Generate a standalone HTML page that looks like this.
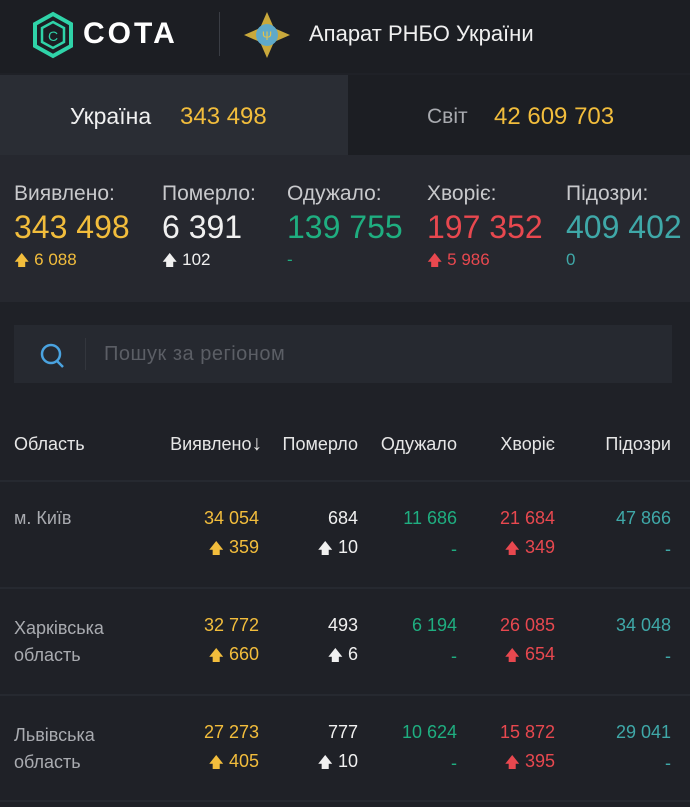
<!DOCTYPE html>
<html><head><meta charset="utf-8"><style>
*{margin:0;padding:0;box-sizing:border-box}
body{width:690px;height:807px;background:#1f2127;font-family:"Liberation Sans","Noto Sans CJK SC",sans-serif;position:relative;overflow:hidden;color:#fff}
.a{position:absolute;white-space:nowrap}
.y{color:#f2bd3c}.w{color:#f0f0f0}.g{color:#1fae80}.r{color:#e8484f}.t{color:#3fa8a8}.gr{color:#a9abb0}
.r2{text-align:right}
.v{font-size:18px}
.ar{font-size:15px}
.sep{position:absolute;left:0;width:690px;height:2px;background:#262930}
</style></head><body>
<div class="a" style="left:0;top:0;width:690px;height:73px;background:#1c1e23"></div>
<svg class="a" style="left:30px;top:11px" width="46" height="48" viewBox="0 0 46 48"><polygon points="23,3 41,13 41,35 23,45 5,35 5,13" fill="none" stroke="#2fd3a8" stroke-width="4"/><polygon points="23,11 34,17 34,31 23,37 12,31 12,17" fill="none" stroke="#2fd3a8" stroke-width="2.5"/><text x="23" y="30" font-size="14" fill="#2fd3a8" text-anchor="middle" font-family="Liberation Sans">C</text></svg>
<div class="a" style="left:83px;top:17px;font-size:30px;letter-spacing:3px;color:#fff;font-weight:bold">COTA</div>
<div class="a" style="left:219px;top:12px;width:1px;height:44px;background:#3a3d44"></div>
<svg class="a" style="left:244px;top:12px" width="46" height="46" viewBox="0 0 46 46"><polygon points="23,0 30,16 46,23 30,30 23,46 16,30 0,23 16,16" fill="#c9a93c"/><circle cx="23" cy="23" r="11" fill="#5fa9c9"/><text x="23" y="28" font-size="12" fill="#e5c24a" text-anchor="middle">Ψ</text></svg>
<div class="a" style="left:309px;top:21px;font-size:22px;color:#f0f0f0">Апарат РНБО України</div>

<div class="a" style="left:0;top:75px;width:348px;height:80px;background:#2a2d34"></div>
<div class="a" style="left:348px;top:75px;width:342px;height:80px;background:#1c1e23"></div>
<div class="a" style="left:70px;top:103px;font-size:23px;color:#f0f0f0">Україна</div>
<div class="a y" style="left:180px;top:103px;font-size:24px">343 498</div>
<div class="a gr" style="left:427px;top:105px;font-size:21px">Світ</div>
<div class="a y" style="left:494px;top:103px;font-size:24px">42 609 703</div>

<div class="a" style="left:0;top:155px;width:690px;height:147px;background:#26282f"></div>
<div class="a" style="left:14px;top:182px;font-size:21px;color:#c8c9cc">Виявлено:</div>
<div class="a" style="left:162px;top:182px;font-size:21px;color:#c8c9cc">Померло:</div>
<div class="a" style="left:287px;top:182px;font-size:21px;color:#c8c9cc">Одужало:</div>
<div class="a" style="left:427px;top:182px;font-size:21px;color:#c8c9cc">Хворіє:</div>
<div class="a" style="left:566px;top:182px;font-size:21px;color:#c8c9cc">Підозри:</div>
<div class="a y" style="left:14px;top:209px;font-size:32px">343 498</div>
<div class="a w" style="left:162px;top:209px;font-size:32px">6 391</div>
<div class="a g" style="left:287px;top:209px;font-size:32px">139 755</div>
<div class="a r" style="left:427px;top:209px;font-size:32px">197 352</div>
<div class="a t" style="left:566px;top:209px;font-size:32px">409 402</div>
<div class="a y" style="left:14px;top:250px;font-size:17px"><span class="ar">🡅</span> 6 088</div>
<div class="a w" style="left:162px;top:250px;font-size:17px"><span class="ar">🡅</span> 102</div>
<div class="a g" style="left:287px;top:250px;font-size:17px">-</div>
<div class="a r" style="left:427px;top:250px;font-size:17px"><span class="ar">🡅</span> 5 986</div>
<div class="a t" style="left:566px;top:250px;font-size:17px">0</div>

<div class="a" style="left:14px;top:325px;width:658px;height:58px;background:#262930"></div>
<svg class="a" style="left:38px;top:342px" width="30" height="28" viewBox="0 0 30 28"><circle cx="13" cy="12" r="9" fill="none" stroke="#4aa3e0" stroke-width="2.5"/><line x1="19" y1="19" x2="25" y2="25" stroke="#4aa3e0" stroke-width="2.5"/></svg>
<div class="a" style="left:85px;top:338px;width:1px;height:32px;background:#33363d"></div>
<div class="a" style="left:104px;top:343px;font-size:20px;color:#5b5e65;letter-spacing:0.5px">Пошук за регіоном</div>

<div class="a" style="left:14px;top:434px;font-size:18px;color:#e6e6e6">Область</div>
<div class="a r2" style="left:130px;width:132px;top:432px;font-size:18px;color:#e6e6e6">Виявлено<span style="font-size:21px">↓</span></div>
<div class="a r2" style="left:250px;width:108px;top:434px;font-size:18px;color:#e6e6e6">Померло</div>
<div class="a r2" style="left:350px;width:107px;top:434px;font-size:18px;color:#e6e6e6">Одужало</div>
<div class="a r2" style="left:450px;width:105px;top:434px;font-size:18px;color:#e6e6e6">Хворіє</div>
<div class="a r2" style="left:560px;width:111px;top:434px;font-size:18px;color:#e6e6e6">Підозри</div>
<div class="sep" style="top:480px"></div>

<div class="a gr" style="left:14px;top:508px;font-size:18px">м. Київ</div>
<div class="a r2 y v" style="left:150px;width:109px;top:508px">34 054</div>
<div class="a r2 w v" style="left:250px;width:108px;top:508px">684</div>
<div class="a r2 g v" style="left:350px;width:107px;top:508px">11 686</div>
<div class="a r2 r v" style="left:450px;width:105px;top:508px">21 684</div>
<div class="a r2 t v" style="left:560px;width:111px;top:508px">47 866</div>
<div class="a r2 y v" style="left:150px;width:109px;top:537px"><span class="ar">🡅</span> 359</div>
<div class="a r2 w v" style="left:250px;width:108px;top:537px"><span class="ar">🡅</span> 10</div>
<div class="a r2 g v" style="left:350px;width:107px;top:539px">-</div>
<div class="a r2 r v" style="left:450px;width:105px;top:537px"><span class="ar">🡅</span> 349</div>
<div class="a r2 t v" style="left:560px;width:111px;top:539px">-</div>
<div class="sep" style="top:587px"></div>

<div class="a gr" style="left:14px;top:615px;font-size:18px;line-height:27px">Харківська<br>область</div>
<div class="a r2 y v" style="left:150px;width:109px;top:615px">32 772</div>
<div class="a r2 w v" style="left:250px;width:108px;top:615px">493</div>
<div class="a r2 g v" style="left:350px;width:107px;top:615px">6 194</div>
<div class="a r2 r v" style="left:450px;width:105px;top:615px">26 085</div>
<div class="a r2 t v" style="left:560px;width:111px;top:615px">34 048</div>
<div class="a r2 y v" style="left:150px;width:109px;top:644px"><span class="ar">🡅</span> 660</div>
<div class="a r2 w v" style="left:250px;width:108px;top:644px"><span class="ar">🡅</span> 6</div>
<div class="a r2 g v" style="left:350px;width:107px;top:646px">-</div>
<div class="a r2 r v" style="left:450px;width:105px;top:644px"><span class="ar">🡅</span> 654</div>
<div class="a r2 t v" style="left:560px;width:111px;top:646px">-</div>
<div class="sep" style="top:694px"></div>

<div class="a gr" style="left:14px;top:722px;font-size:18px;line-height:27px">Львівська<br>область</div>
<div class="a r2 y v" style="left:150px;width:109px;top:722px">27 273</div>
<div class="a r2 w v" style="left:250px;width:108px;top:722px">777</div>
<div class="a r2 g v" style="left:350px;width:107px;top:722px">10 624</div>
<div class="a r2 r v" style="left:450px;width:105px;top:722px">15 872</div>
<div class="a r2 t v" style="left:560px;width:111px;top:722px">29 041</div>
<div class="a r2 y v" style="left:150px;width:109px;top:751px"><span class="ar">🡅</span> 405</div>
<div class="a r2 w v" style="left:250px;width:108px;top:751px"><span class="ar">🡅</span> 10</div>
<div class="a r2 g v" style="left:350px;width:107px;top:753px">-</div>
<div class="a r2 r v" style="left:450px;width:105px;top:751px"><span class="ar">🡅</span> 395</div>
<div class="a r2 t v" style="left:560px;width:111px;top:753px">-</div>
<div class="sep" style="top:800px"></div>
</body></html>
